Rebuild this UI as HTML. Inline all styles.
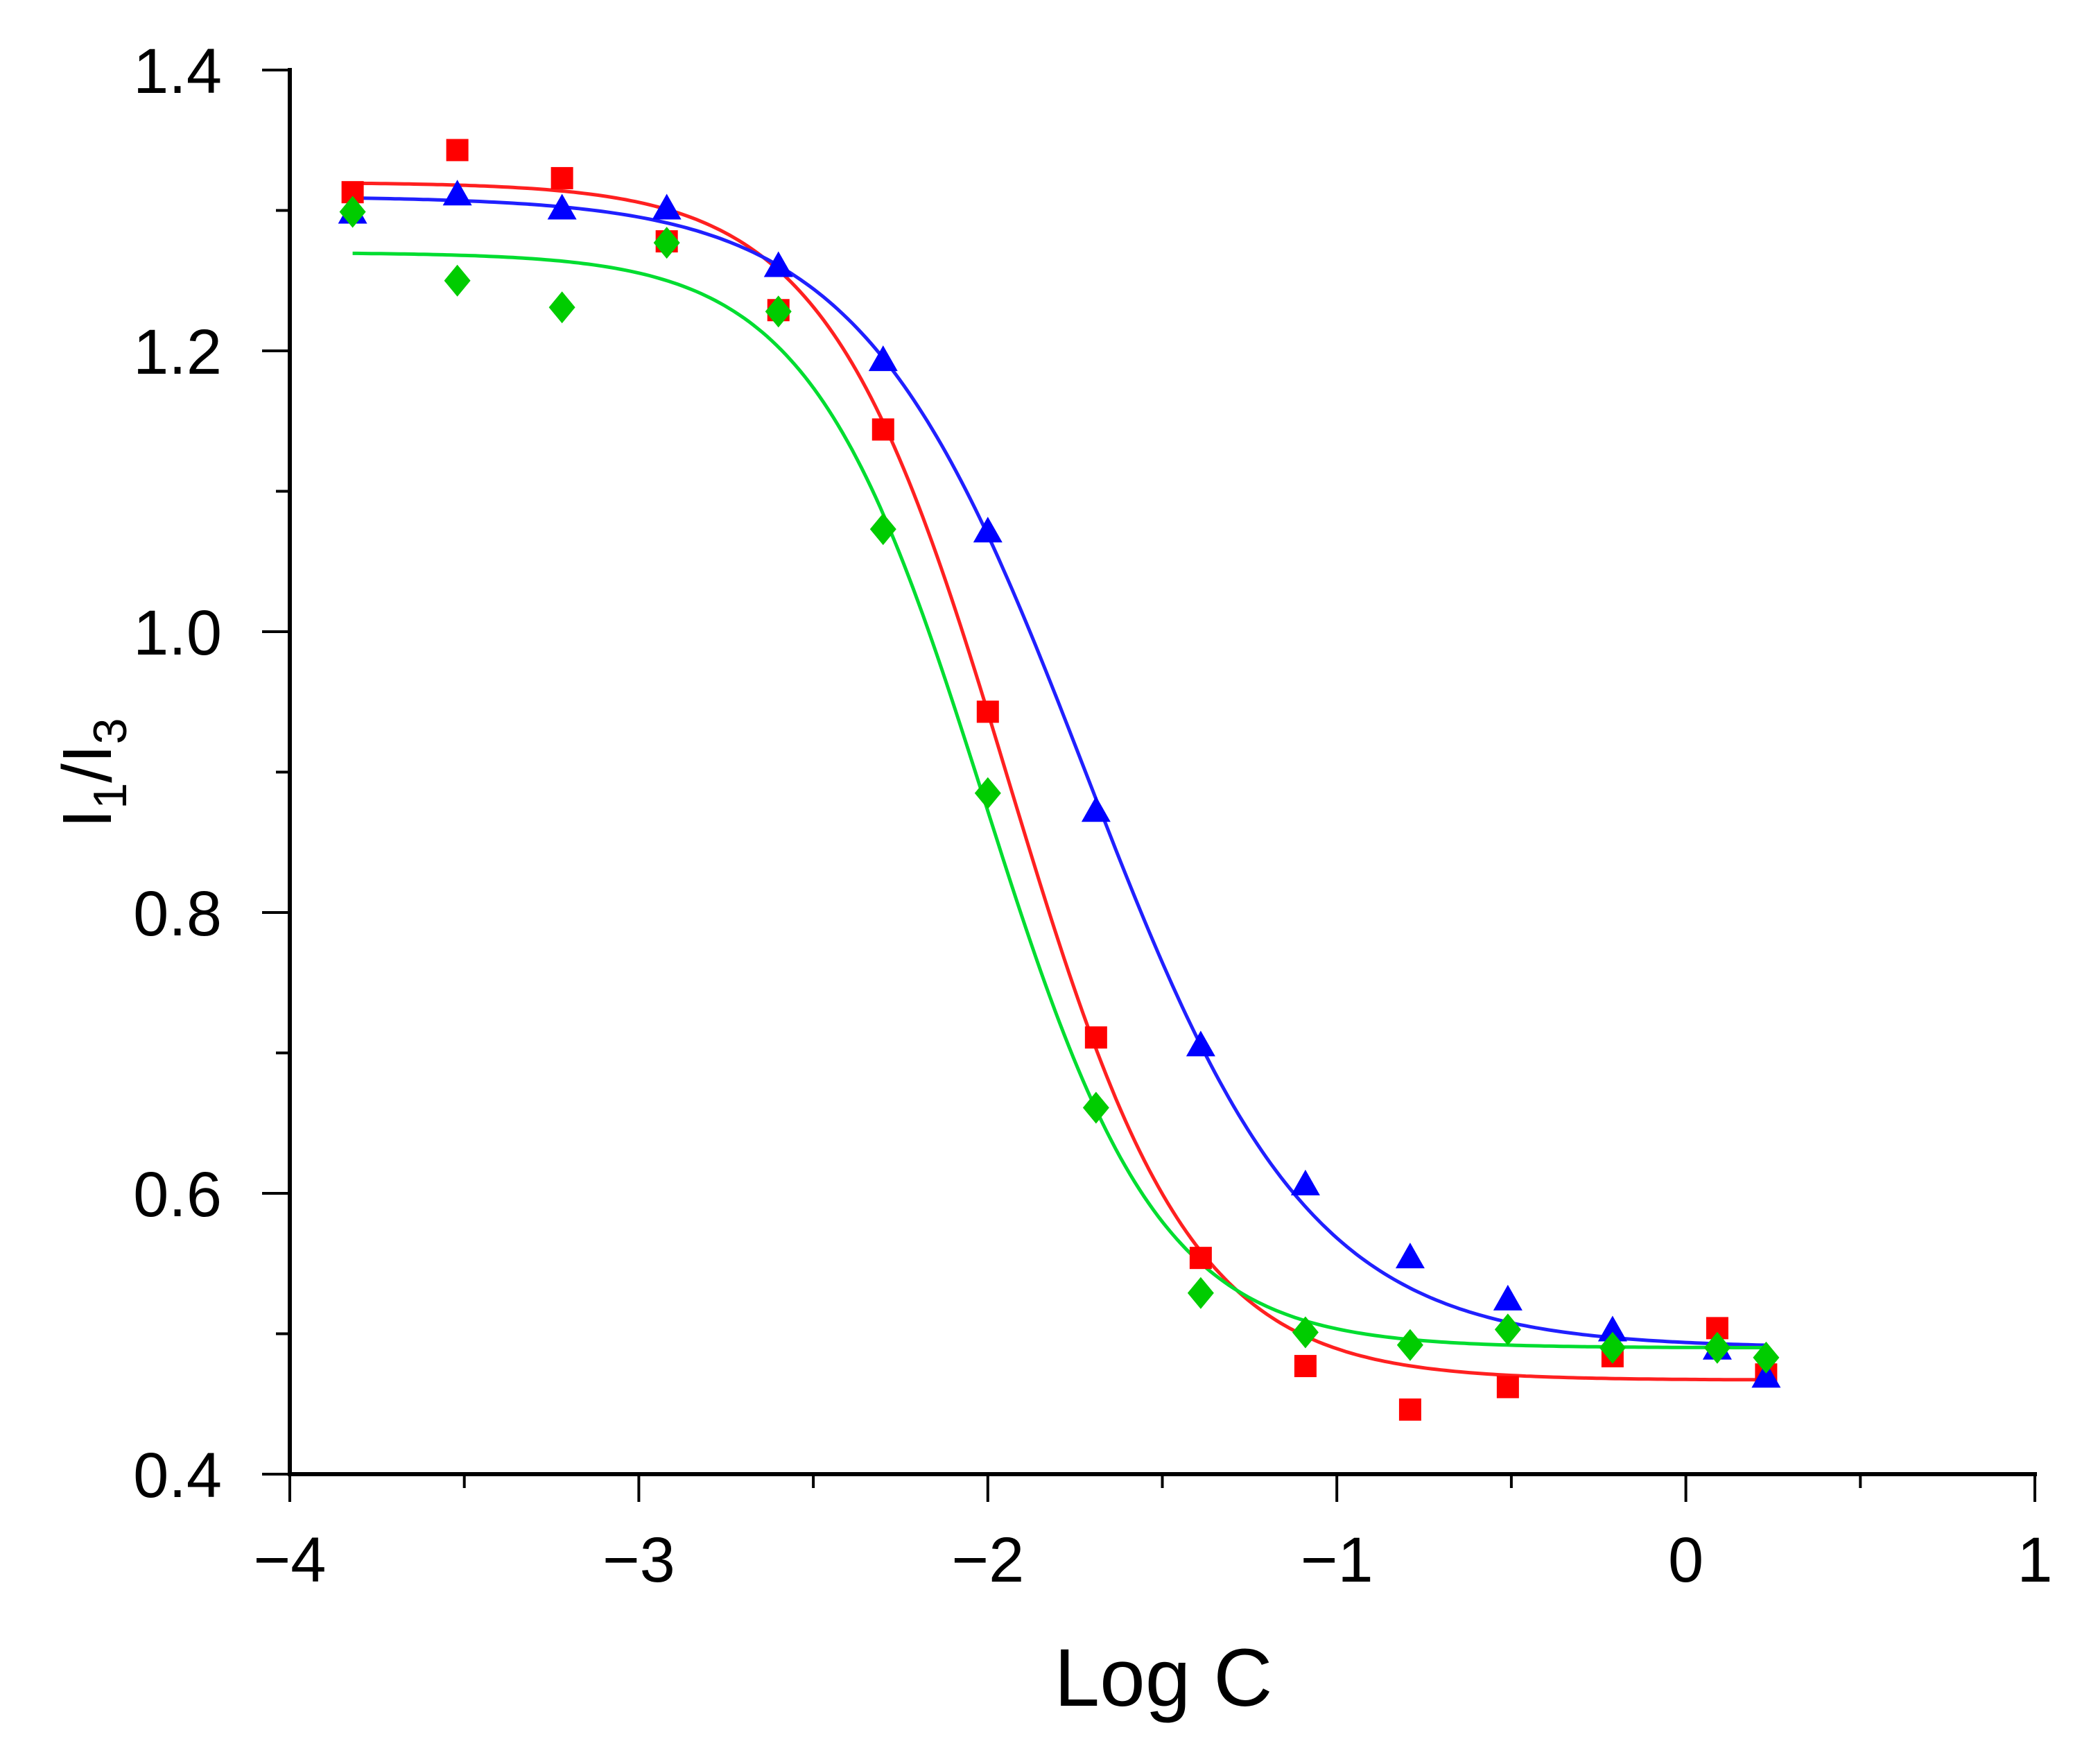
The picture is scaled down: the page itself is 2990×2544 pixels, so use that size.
<!DOCTYPE html>
<html><head><meta charset="utf-8"><style>
html,body{margin:0;padding:0;background:#fff;}
svg{display:block;font-family:"Liberation Sans",Arial,sans-serif;}
</style></head><body>
<svg id="chart" width="2990" height="2544" viewBox="0 0 2990 2544" xmlns="http://www.w3.org/2000/svg">
<rect width="2990" height="2544" fill="#fff"/>
<g id="axes"></g>
<g id="curves"></g>
<g id="marks"></g>
<text x="1678" y="2460" font-size="118" text-anchor="middle" fill="#000">Log C</text>
<text transform="translate(160,1115) rotate(-90)" font-size="100" text-anchor="middle" fill="#000">I<tspan font-size="68" dy="22">1</tspan><tspan dy="-22">/I</tspan><tspan font-size="68" dy="22">3</tspan></text>
</svg>
<script>
const xVals = [-3.82,-3.52,-3.22,-2.92,-2.60,-2.30,-2.00,-1.69,-1.39,-1.09,-0.79,-0.51,-0.21,0.09,0.23];
const redVals = [1.313,1.343,1.323,1.278,1.229,1.144,0.943,0.711,0.554,0.477,0.446,0.462,0.484,0.504,0.471];
const blueVals = [1.298,1.311,1.301,1.301,1.260,1.193,1.071,0.872,0.705,0.606,0.554,0.524,0.502,0.489,0.469];
const greenVals = [1.299,1.250,1.231,1.277,1.228,1.073,0.885,0.661,0.529,0.501,0.492,0.503,0.490,0.490,0.483];
const redFit = [1.32,0.467,-1.94,0.26];
const blueFit = [1.31,0.49,-1.72,0.32];
const greenFit = [1.27,0.49,-2.01,0.25];
const xTicks = [-4,-3,-2,-1,0,1];
const yTicks = [0.4,0.6,0.8,1.0,1.2,1.4];
const xTickLabels = ["\u22124","\u22123","\u22122","\u22121","0","1"];
const yTickLabels = ["0.4","0.6","0.8","1.0","1.2","1.4"];

const NS="http://www.w3.org/2000/svg";
const X0=418,X1=2935,Y0=2126,Y1=101;
const sx=v=>X0+(v+4)/5*(X1-X0);
const sy=v=>Y0-(v-0.4)/1.0*(Y0-Y1);
function mk(tag,attrs,parent){const e=document.createElementNS(NS,tag);for(const k in attrs)e.setAttribute(k,attrs[k]);parent.appendChild(e);return e;}
const axes=document.getElementById('axes');
let e;
e=mk('line',{x1:X0,y1:Y1-3,x2:X0,y2:Y0+3,stroke:'#000','stroke-width':6},axes);


e=mk('line',{x1:X0-3,y1:Y0,x2:X1+3,y2:Y0,stroke:'#000','stroke-width':6},axes);


for(let v=-4;v<=1.001;v+=0.5){
  const major=Math.abs(v-Math.round(v))<1e-6;
  e=mk('line',{x1:sx(v),y1:Y0,x2:sx(v),y2:Y0+(major?40:20),stroke:'#000','stroke-width':4},axes);
  
  
}
for(let i=0;i<=10;i++){
  const v=0.4+i*0.1;const major=i%2===0;
  e=mk('line',{x1:X0,y1:sy(v),x2:X0-(major?40:20),y2:sy(v),stroke:'#000','stroke-width':4},axes);
  
  
}
xTicks.forEach((v,i)=>{
  const t=mk('text',{x:sx(v),y:2281,'font-size':92,'text-anchor':'middle',fill:'#000'},axes);
  t.textContent=xTickLabels[i];
  
  
});
yTicks.forEach((v,i)=>{
  const t=mk('text',{x:320,y:sy(v)+33,'font-size':92,'text-anchor':'end',fill:'#000'},axes);
  t.textContent=yTickLabels[i];
  
  
});
const curves=document.getElementById('curves');
function fit(p,x){return p[1]+(p[0]-p[1])/(1+Math.exp((x-p[2])/p[3]));}
[[redFit,'#ff2020','red-fit-curve'],[blueFit,'#2020ff','blue-fit-curve'],[greenFit,'#00dd30','green-fit-curve']].forEach(([p,c,n])=>{
  let d='';
  for(let i=0;i<=300;i++){const x=xVals[0]+(xVals[xVals.length-1]-xVals[0])*i/300;d+=(i?'L':'M')+sx(x).toFixed(1)+','+sy(fit(p,x)).toFixed(1);}
  const pe=mk('path',{d:d,fill:'none',stroke:c,'stroke-width':5},curves);
  
  
});
const marks=document.getElementById('marks');
redVals.forEach((v,i)=>{
  const r=mk('rect',{x:sx(xVals[i])-16,y:sy(v)-16,width:32,height:32,fill:'#ff0000'},marks);
  
  
});
blueVals.forEach((v,i)=>{
  const cx=sx(xVals[i]),cy=sy(v);
  const t=mk('polygon',{points:`${cx},${cy-22} ${cx+21},${cy+15} ${cx-21},${cy+15}`,fill:'#0000ff'},marks);
  
  
});
greenVals.forEach((v,i)=>{
  const cx=sx(xVals[i]),cy=sy(v);
  const t=mk('polygon',{points:`${cx},${cy-23} ${cx+19},${cy} ${cx},${cy+23} ${cx-19},${cy}`,fill:'#00cc00'},marks);
  
  
});
</script>
</body></html>
